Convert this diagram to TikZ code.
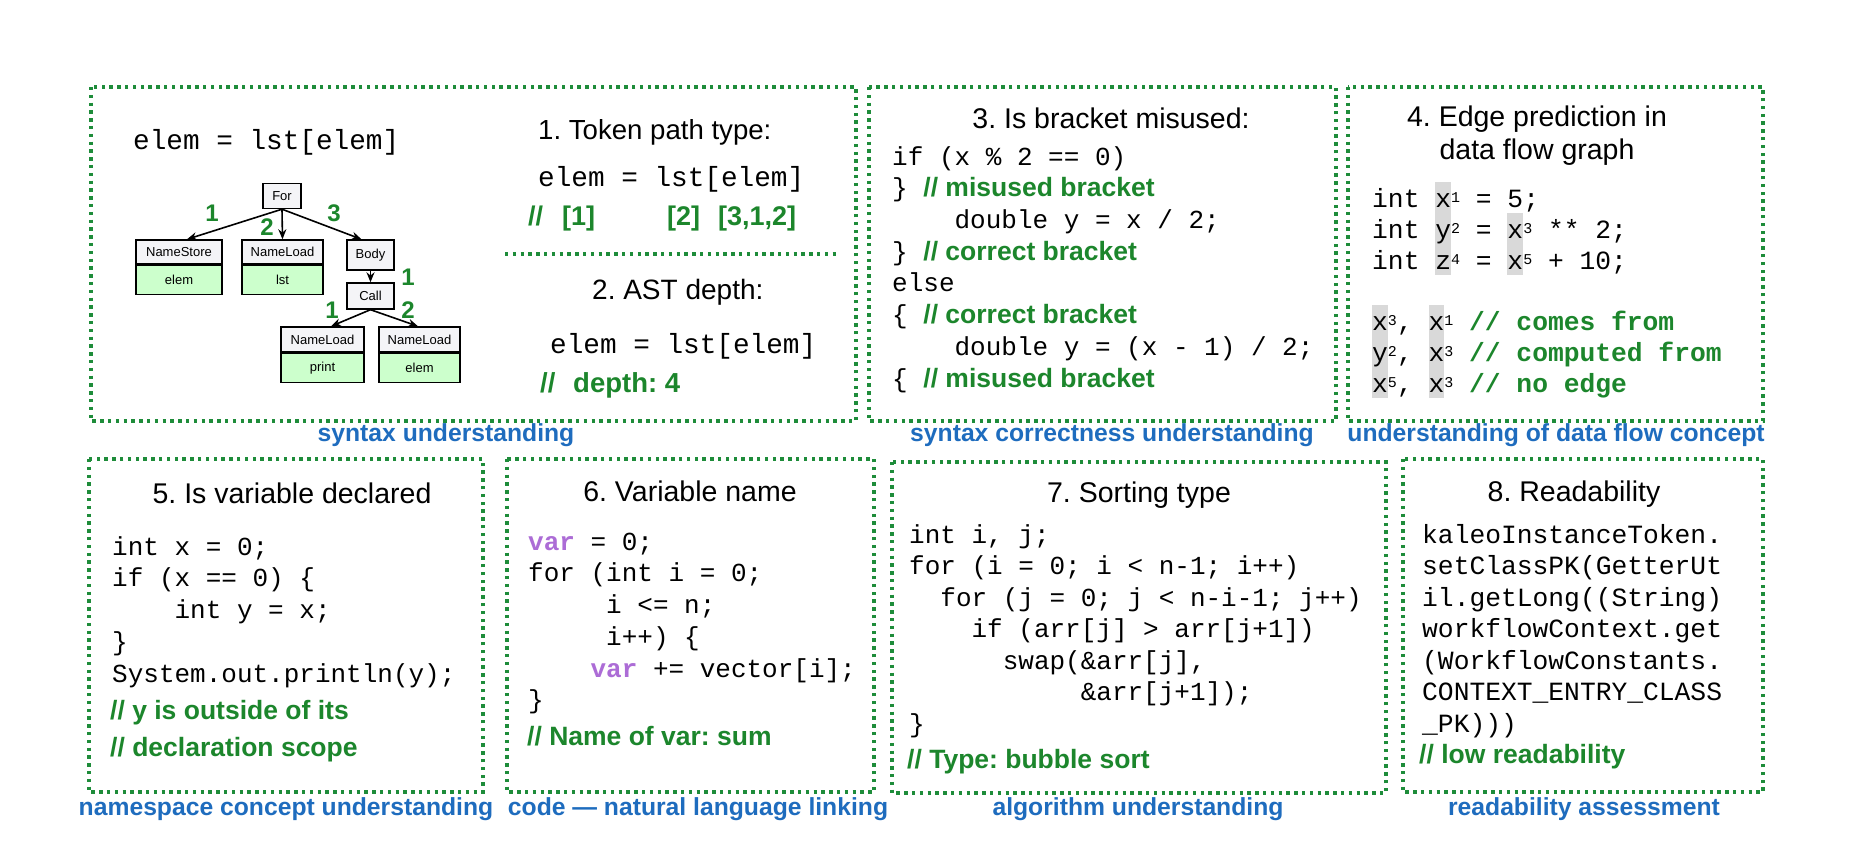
\documentclass[tikz,border=0pt]{standalone}
\usepackage{fontspec}
\setmainfont{Liberation Sans}
\newfontfamily\codefont{Liberation Mono}
\usetikzlibrary{arrows.meta}

\definecolor{dotgreen}{RGB}{30,140,58}
\definecolor{cmtgreen}{RGB}{28,134,44}
\definecolor{labelblue}{RGB}{30,108,190}
\definecolor{varpurple}{RGB}{172,108,214}
\definecolor{hlgray}{RGB}{217,217,217}
\definecolor{valgreen}{RGB}{204,255,204}
\definecolor{hdrgray}{RGB}{244,244,247}

% green bold sans comment inside a code block
\newcommand\cmt[1]{{\rmfamily\bfseries\color{cmtgreen}\fontsize{26.5}{31.7}\selectfont #1}}
% green bold monospace comment
\newcommand\cmtmono[1]{{\bfseries\color{cmtgreen}#1}}
% highlighted placeholder variable
\newcommand\varkw{{\bfseries\color{varpurple}var}}
% grey highlight behind one character, one full line tall
\newcommand\hlc[1]{{\setlength\fboxsep{0pt}\colorbox{hlgray}{\rule[-6pt]{0pt}{31pt}#1}}}
% small raised index digit
\newcommand\supd[1]{\raisebox{5pt}{\fontsize{15}{15}\selectfont #1}}
% fixed first-line height of a code block
\newcommand\topstrut{\rule{0pt}{25pt}}

\begin{document}
\frenchspacing
\begin{tikzpicture}[x=1pt,y=-1pt,
  panel/.style={draw=dotgreen, line width=3.4pt, dash pattern=on 3.4pt off 4.4pt},
  cat/.style={anchor=base, inner sep=0pt, text=labelblue, font=\bfseries\fontsize{24.7}{28}\selectfont},
  ttl/.style={anchor=base, inner sep=0pt, font=\fontsize{28.5}{33}\selectfont},
  codeblk/.style={anchor=north west, inner sep=0pt, align=left,
    font=\codefont\frenchspacing\fontsize{26}{31.7}\selectfont},
  codeln/.style={anchor=base west, inner sep=0pt, font=\codefont\frenchspacing\fontsize{27.7}{31}\selectfont},
  cmtln/.style={anchor=base west, inner sep=0pt, text=cmtgreen, font=\bfseries\frenchspacing\fontsize{26.5}{31}\selectfont},
  astk/.style={draw=black, line width=1.4pt, fill=hdrgray, inner sep=0pt, font=\fontsize{13}{15}\selectfont},
  astv/.style={draw=black, line width=1.4pt, fill=valgreen, inner sep=0pt, anchor=north, font=\fontsize{13}{15}\selectfont},
  astedge/.style={-{Stealth[length=10pt,width=8pt]}, line width=1.6pt},
  edgenum/.style={inner sep=0pt, text=cmtgreen, font=\bfseries\fontsize{24}{24}\selectfont}]

\fill[white] (0,0) rectangle (1858,866);
\useasboundingbox (0,0) rectangle (1858,866);

% ---------- panels ----------
\draw[panel] (91,87) rectangle (856,421);
\draw[panel] (869,87) rectangle (1336,421);
\draw[panel] (1348,87) rectangle (1763,421);
\draw[panel] (89,459) rectangle (483,792);
\draw[panel] (507,459) rectangle (874,792);
\draw[panel] (892,462) rectangle (1386,793);
\draw[panel] (1403,459) rectangle (1763,792);
\draw[panel] (505,254) -- (840,254);

% ---------- category labels ----------
\node[cat] (l1) at (446,441) {syntax understanding};
\node[cat] (l2) at (1112,441) {syntax correctness understanding};
\node[cat] (l3) at (1556,441) {understanding of data flow concept};
\node[cat] (l4) at (286,815) {namespace concept understanding};
\node[cat] (l5) at (698,815) {code — natural language linking};
\node[cat] (l6) at (1138,815) {algorithm understanding};
\node[cat] (l7) at (1584,815) {readability assessment};

% ---------- 1 & 2: token path type, AST depth ----------
\node[codeln] (src) at (133,150) {elem = lst[elem]};

\node[astk, minimum width=38pt, minimum height=25pt] (for) at (282,196) {For};
\node[astk, minimum width=86pt, minimum height=24pt] (nsk) at (179,252) {NameStore};
\node[astv, minimum width=86pt, minimum height=29pt] (nsv) at (nsk.south) {elem};
\node[astk, minimum width=81pt, minimum height=24pt] (lsk) at (282.5,252) {NameLoad};
\node[astv, minimum width=81pt, minimum height=29pt] (lsv) at (lsk.south) {lst};
\node[astk, minimum width=47pt, minimum height=30pt] (body) at (370.5,255) {Body};
\node[astk, minimum width=47pt, minimum height=26pt] (call) at (370.5,296) {Call};
\node[astk, minimum width=83pt, minimum height=25pt] (prk) at (322.5,339.5) {NameLoad};
\node[astv, minimum width=83pt, minimum height=29pt] (prv) at (prk.south) {print};
\node[astk, minimum width=81pt, minimum height=25pt] (elk) at (419.5,339.5) {NameLoad};
\node[astv, minimum width=81pt, minimum height=29pt] (elv) at (elk.south) {elem};

\draw[astedge] (for.south) -- ([xshift=8pt]nsk.north);
\draw[astedge] (for.south) -- (lsk.north);
\draw[astedge] (for.south) -- ([xshift=-9pt]body.north);
\draw[astedge] (body.south) -- (call.north);
\draw[astedge] (call.south) -- ([xshift=8.5pt]prk.north);
\draw[astedge] (call.south) -- ([xshift=-1.5pt]elk.north);

\node[edgenum] (n1) at (212,213) {1};
\node[edgenum] (n2) at (267,227) {2};
\node[edgenum] (n3) at (334,213) {3};
\node[edgenum] (n4) at (408,277) {1};
\node[edgenum] (n5) at (332,310) {1};
\node[edgenum] (n6) at (408,310) {2};

\node[ttl, anchor=base west, font=\fontsize{27.6}{33}\selectfont] (t1) at (538,140) {1. Token path type:};
\node[codeln] (tp) at (538,187) {elem = lst[elem]};
\node[cmtln, font=\bfseries\fontsize{27}{31}\selectfont] (tpa) at (528,226) {//};
\node[cmtln, font=\bfseries\fontsize{27}{31}\selectfont] (tpb) at (562,226) {[1]};
\node[cmtln, font=\bfseries\fontsize{27}{31}\selectfont] (tpc) at (667,226) {[2]};
\node[cmtln, font=\bfseries\fontsize{27}{31}\selectfont] (tpd) at (718,226) {[3,1,2]};

\node[ttl, anchor=base west, font=\fontsize{28}{33}\selectfont] (t2) at (592,300) {2. AST depth:};
\node[codeln] (dp) at (550,354) {elem = lst[elem]};
\node[cmtln, font=\bfseries\fontsize{27.5}{31}\selectfont] (dpa) at (540,392) {//};
\node[cmtln, font=\bfseries\fontsize{27.5}{31}\selectfont] (dpb) at (573,392) {depth: 4};

% ---------- 3: bracket misuse ----------
\node[ttl] (t3) at (1111,129) {3. Is bracket misused:};
\node[codeblk] (c3) at (892,140) {\topstrut if (x \% 2 == 0)\\
\} \cmt{// misused bracket}\\
~~~~double y = x / 2;\\
\} \cmt{// correct bracket}\\
else\\
\{ \cmt{// correct bracket}\\
~~~~double y = (x - 1) / 2;\\
\{ \cmt{// misused bracket}};

% ---------- 4: data flow edges ----------
\node[ttl] (t4a) at (1537,127) {4. Edge prediction in};
\node[ttl] (t4b) at (1537,160) {data flow graph};
\node[codeblk, font=\codefont\frenchspacing\fontsize{26.3}{31}\selectfont] (c4) at (1372,182)
 {int \hlc{x}\supd{1} = 5;\\
int \hlc{y}\supd{2} = \hlc{x}\supd{3} ** 2;\\
int \hlc{z}\supd{4} = \hlc{x}\supd{5} + 10;};
\node[codeblk, font=\codefont\frenchspacing\fontsize{26.3}{31}\selectfont] (q4) at (1372,305)
 {\hlc{x}\supd{3}, \hlc{x}\supd{1} \cmtmono{// comes from}\\
\hlc{y}\supd{2}, \hlc{x}\supd{3} \cmtmono{// computed from}\\
\hlc{x}\supd{5}, \hlc{x}\supd{3} \cmtmono{// no edge}};

% ---------- 5: variable declared ----------
\node[ttl] (t5) at (292,503) {5. Is variable declared};
\node[codeblk] (c5) at (112,530) {\topstrut int x = 0;\\
if (x == 0) \{\\
~~~~int y = x;\\
\}\\
System.out.println(y);};
\node[cmtln] (m5a) at (110,719) {// y is outside of its};
\node[cmtln] (m5b) at (110,756) {// declaration scope};

% ---------- 6: variable name ----------
\node[ttl] (t6) at (690,501) {6. Variable name};
\node[codeblk] (c6) at (528,525) {\topstrut\varkw{} = 0;\\
for (int i = 0;\\
~~~~~i <= n;\\
~~~~~i++) \{\\
~~~~\varkw{} += vector[i];\\
\}};
\node[cmtln] (m6) at (527,745) {// Name of var: sum};

% ---------- 7: sorting type ----------
\node[ttl] (t7) at (1139,502) {7. Sorting type};
\node[codeblk, font=\codefont\frenchspacing\fontsize{26}{31.5}\selectfont] (c7) at (909,518) {\topstrut int i, j;\\
for (i = 0; i < n-1; i++)\\
~~for (j = 0; j < n-i-1; j++)\\
~~~~if (arr[j] > arr[j+1])\\
~~~~~~swap(\&arr[j],\\
~~~~~~~~~~~\&arr[j+1]);\\
\}};
\node[cmtln] (m7) at (907,768) {// Type: bubble sort};

% ---------- 8: readability ----------
\node[ttl] (t8) at (1574,501) {8. Readability};
\node[codeblk, font=\codefont\frenchspacing\fontsize{26.3}{31.5}\selectfont] (c8) at (1422,518) {\topstrut kaleoInstanceToken.\\
setClassPK(GetterUt\\
il.getLong((String)\\
workflowContext.get\\
(WorkflowConstants.\\
CONTEXT\_ENTRY\_CLASS\\
\_PK)))};
\node[cmtln] (m8) at (1419,763) {// low readability};

\end{tikzpicture}
\end{document}
